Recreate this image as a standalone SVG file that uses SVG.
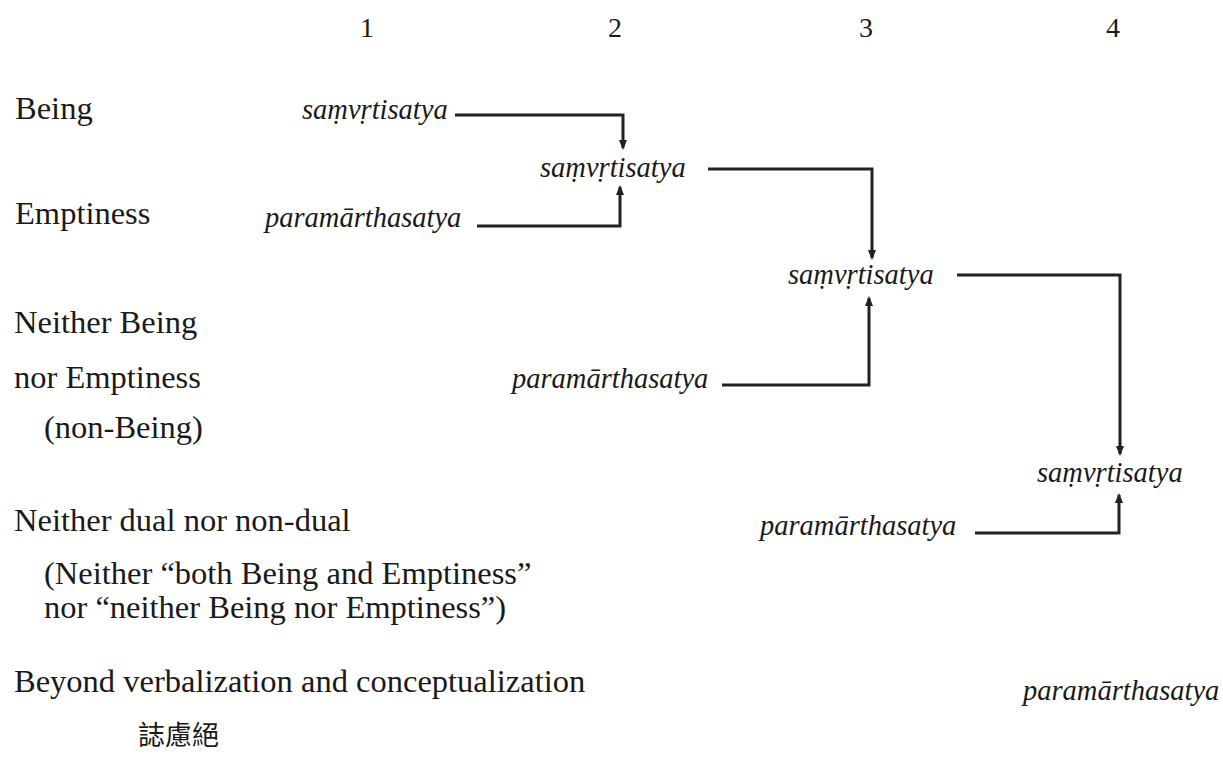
<svg xmlns="http://www.w3.org/2000/svg" width="1223" height="776" viewBox="0 0 1223 776">
<style>
.lbl{font-family:"Liberation Serif","DejaVu Serif",serif;font-size:32.5px;fill:#1a1a1a}
.num{font-family:"Liberation Serif","DejaVu Serif",serif;font-size:28px;fill:#1a1a1a;text-anchor:middle}
.it{font-family:"Liberation Serif","DejaVu Serif",serif;font-size:28.5px;font-style:italic;fill:#1a1a1a}
.cjk{font-family:"Noto Sans CJK TC","Noto Sans CJK SC",sans-serif;font-size:27px;fill:#1a1a1a}
.con{fill:none;stroke:#222;stroke-width:3;marker-end:url(#ah)}
</style>
<defs>
<marker id="ah" viewBox="0 0 10 10" refX="8" refY="5" markerWidth="3.4" markerHeight="3.4" orient="auto" markerUnits="strokeWidth">
<path d="M0,1 L10,5 L0,9 z" fill="#222"/>
</marker>
</defs>
<rect width="1223" height="776" fill="#fff"/>
<g id="columns">
<text class="num" x="367" y="37">1</text>
<text class="num" x="615" y="37">2</text>
<text class="num" x="866" y="37">3</text>
<text class="num" x="1113" y="37">4</text>
</g>
<g id="row-labels">
<text class="lbl" x="15" y="119">Being</text>
<text class="lbl" x="15" y="224">Emptiness</text>
<text class="lbl" x="14" y="333">Neither Being</text>
<text class="lbl" x="14" y="388">nor Emptiness</text>
<text class="lbl" x="44" y="438">(non-Being)</text>
<text class="lbl" x="14" y="531">Neither dual nor non-dual</text>
<text class="lbl" x="44" y="584">(Neither “both Being and Emptiness”</text>
<text class="lbl" x="44" y="618">nor “neither Being nor Emptiness”)</text>
<text class="lbl" x="14" y="692">Beyond verbalization and conceptualization</text>
<text class="cjk" x="138" y="745">誌慮絕</text>
</g>
<g id="n1-samvrti"><text class="it" x="302" y="119">saṃvṛtisatya</text></g>
<g id="n1-param"><text class="it" x="265" y="227">paramārthasatya</text></g>
<g id="n2-samvrti"><text class="it" x="540" y="177">saṃvṛtisatya</text></g>
<g id="n2-param"><text class="it" x="512" y="388">paramārthasatya</text></g>
<g id="n3-samvrti"><text class="it" x="788" y="284">saṃvṛtisatya</text></g>
<g id="n3-param"><text class="it" x="760" y="535">paramārthasatya</text></g>
<g id="n4-samvrti"><text class="it" x="1037" y="482">saṃvṛtisatya</text></g>
<g id="n4-param"><text class="it" x="1023" y="700">paramārthasatya</text></g>
<g id="connectors">
<path class="con" d="M455,115 H623 V148"/>
<path class="con" d="M477,226 H620 V187"/>
<path class="con" d="M708,169 H872 V258"/>
<path class="con" d="M722,385 H869 V298"/>
<path class="con" d="M957,275 H1120 V454"/>
<path class="con" d="M975,533 H1119 V495"/>
</g>
</svg>
